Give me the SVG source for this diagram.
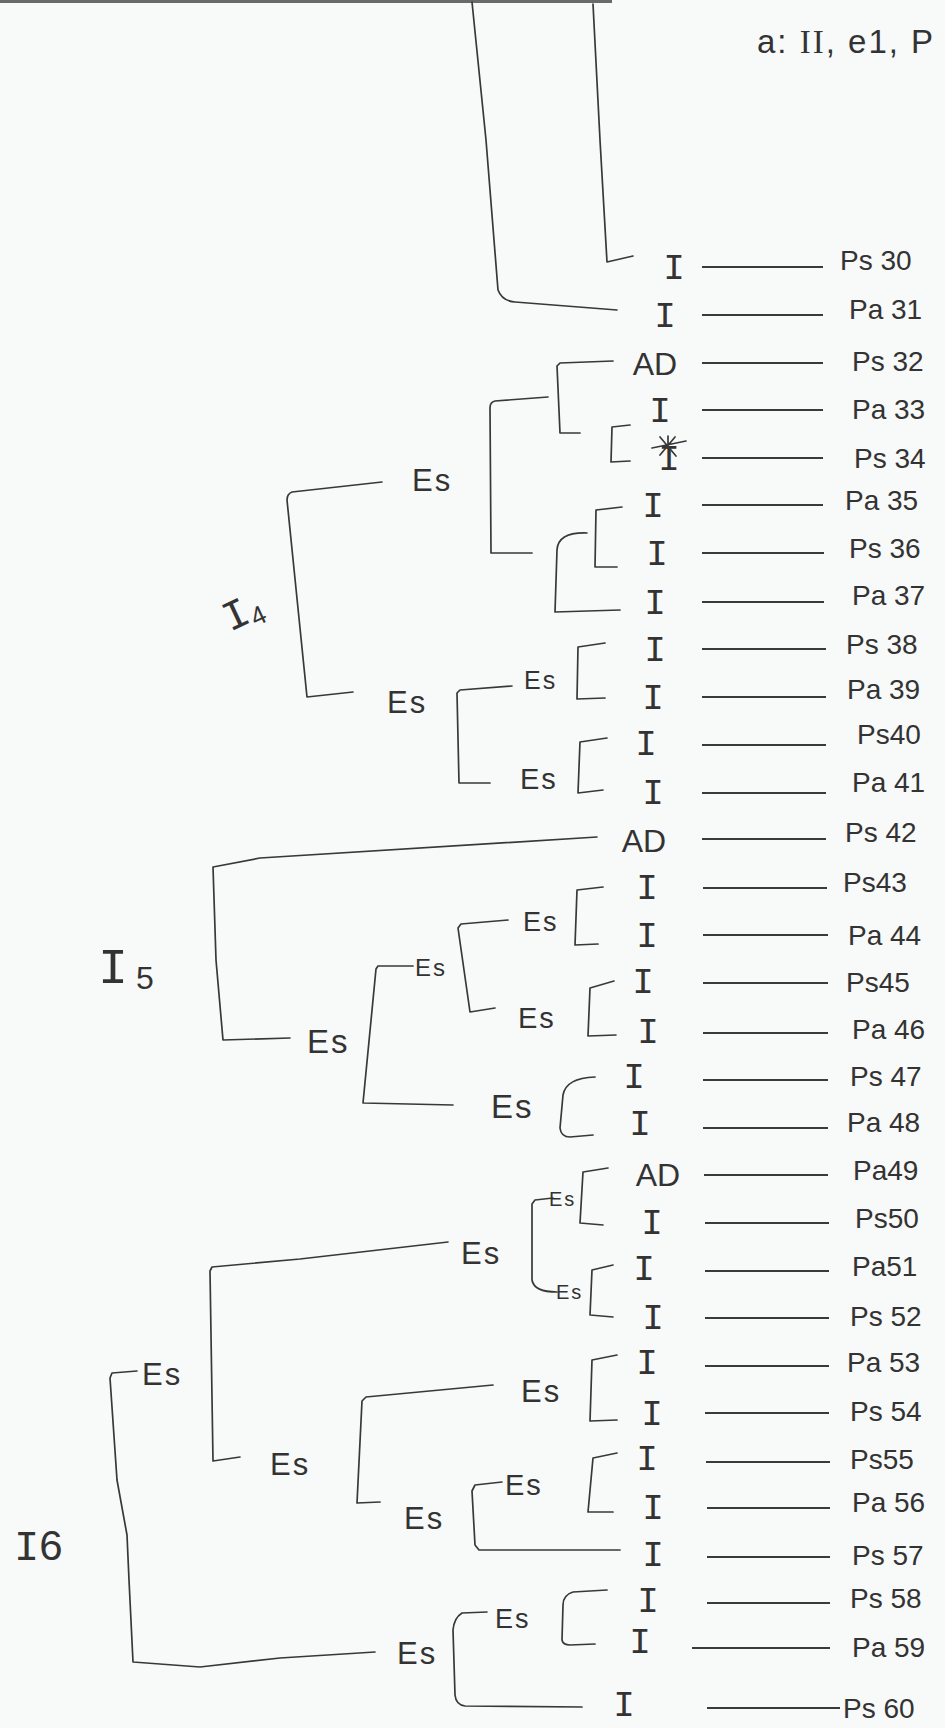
<svg xmlns="http://www.w3.org/2000/svg" width="945" height="1728" viewBox="0 0 945 1728">
<style>
.c{fill:none;stroke:#383838;stroke-width:1.7;stroke-linejoin:round;stroke-linecap:round}
.r{stroke:#3a3a3a;stroke-width:2}
.t{font-family:"Liberation Mono","DejaVu Sans Mono",monospace;font-size:36px;fill:#333;text-anchor:middle}
.ad{font-family:"Liberation Sans",Arial,sans-serif;font-size:32px;fill:#333;text-anchor:middle}
.p{font-family:"Liberation Sans",Arial,sans-serif;font-size:28px;fill:#333}
.e{font-family:"Liberation Sans",Arial,sans-serif;fill:#333;letter-spacing:2px}
.root{font-family:"Liberation Mono","DejaVu Sans Mono",monospace;fill:#333}
</style>
<rect x="0" y="0" width="945" height="1728" fill="#f8faf9"/>
<line x1="0" y1="1.5" x2="612" y2="1.5" stroke="#6a6a6a" stroke-width="3"/>

<g id="header"><text class="e" x="757" y="53" font-size="33" letter-spacing="1.5">a: <tspan font-family="Liberation Serif, serif">II</tspan>, e1, P</text></g>

<g id="connectors">
<path class="c" d="M472,2 L486,140 L498,290 Q502,301 515,302 L617,310"/>
<path class="c" d="M593,4 L600,140 L607,262 L633,256"/>
<path class="c" d="M382,482 L292,492 Q287,494 287,500 L307,697 L353,692"/>
<path class="c" d="M548,397 L495,401 Q490,402 490,408 L491,553 L532,553"/>
<path class="c" d="M613,361 L560,363 L557,366 L560,433 L580,433"/>
<path class="c" d="M630,425 L612,427 L611,462 L630,461"/>
<path class="c" d="M622,507 L596,510 L595,567 L617,567"/>
<path class="c" d="M587,533 Q558,532 557,550 L555,612 L620,610"/>
<path class="c" d="M512,686 L460,690 L457,693 L459,783 L490,783"/>
<path class="c" d="M605,643 L578,647 L577,699 L605,698"/>
<path class="c" d="M607,738 L580,742 L578,793 L603,790"/>
<path class="c" d="M597,837 L260,858 L213,867 L216,960 L223,1040 L290,1038"/>
<path class="c" d="M413,966 L378,966 L376,969 L363,1103 L453,1105"/>
<path class="c" d="M508,920 L461,924 L458,928 L470,1012 L495,1008"/>
<path class="c" d="M603,887 L577,890 L575,945 L598,944"/>
<path class="c" d="M614,981 L590,988 L588,1036 L616,1035"/>
<path class="c" d="M595,1077 Q566,1078 563,1095 L560,1128 Q561,1137 570,1137 L593,1135"/>
<path class="c" d="M137,1371 L112,1373 L110,1378 L117,1480 L127,1535 L129,1580 L133,1662 L200,1667 L280,1658 L375,1652"/>
<path class="c" d="M448,1242 L300,1259 L212,1267 L210,1271 L213,1461 L240,1457"/>
<path class="c" d="M493,1385 L366,1397 L362,1401 L357,1503 L380,1502"/>
<path class="c" d="M553,1198 L535,1200 L532,1204 L532,1280 Q534,1292 557,1292"/>
<path class="c" d="M608,1168 L583,1172 L580,1223 L603,1225"/>
<path class="c" d="M613,1265 L592,1270 L590,1315 L613,1317"/>
<path class="c" d="M617,1355 L592,1360 L590,1421 L617,1420"/>
<path class="c" d="M502,1482 L475,1485 L472,1491 L475,1545 L479,1550 L620,1550"/>
<path class="c" d="M617,1453 L593,1458 L588,1512 L613,1512"/>
<path class="c" d="M487,1612 L462,1613 Q454,1618 453,1630 L455,1695 Q456,1705 465,1706 L582,1707"/>
<path class="c" d="M607,1590 L573,1592 Q563,1595 563,1605 L562,1640 Q563,1645 570,1645 L595,1644"/>
</g>

<g id="I4"><text class="root" transform="translate(230,632) rotate(-25)" font-size="42">I<tspan font-size="26" font-family="Liberation Sans, sans-serif" dy="6">4</tspan></text></g>
<g id="I5"><text class="root" x="98" y="983" font-size="50">I<tspan font-size="32" font-family="Liberation Sans, sans-serif" dx="8" dy="6">5</tspan></text></g>
<g id="I6"><text class="root" x="14" y="1560" font-size="42">I<tspan font-family="Liberation Sans, sans-serif">6</tspan></text></g>

<g id="es-i4a"><text class="e" x="412" y="491" font-size="31">Es</text></g>
<g id="es-i4b"><text class="e" x="387" y="713" font-size="31">Es</text></g>
<g id="es-38"><text class="e" x="524" y="689" font-size="25">Es</text></g>
<g id="es-40"><text class="e" x="520" y="789" font-size="29">Es</text></g>
<g id="es-i5"><text class="e" x="307" y="1053" font-size="33">Es</text></g>
<g id="es-i5a"><text class="e" x="415" y="976" font-size="24">Es</text></g>
<g id="es-43"><text class="e" x="523" y="931" font-size="27">Es</text></g>
<g id="es-45"><text class="e" x="518" y="1028" font-size="29">Es</text></g>
<g id="es-47"><text class="e" x="491" y="1118" font-size="33">Es</text></g>
<g id="es-i6a"><text class="e" x="142" y="1385" font-size="31">Es</text></g>
<g id="es-i6b"><text class="e" x="397" y="1664" font-size="31">Es</text></g>
<g id="es-49"><text class="e" x="461" y="1264" font-size="31">Es</text></g>
<g id="es-49a"><text class="e" x="549" y="1206" font-size="20" letter-spacing="0">Es</text></g>
<g id="es-51"><text class="e" x="556" y="1299" font-size="20" letter-spacing="0">Es</text></g>
<g id="es-53b"><text class="e" x="270" y="1475" font-size="31">Es</text></g>
<g id="es-53"><text class="e" x="521" y="1402" font-size="31">Es</text></g>
<g id="es-55b"><text class="e" x="404" y="1529" font-size="31">Es</text></g>
<g id="es-55"><text class="e" x="505" y="1495" font-size="29">Es</text></g>
<g id="es-58"><text class="e" x="495" y="1628" font-size="27">Es</text></g>

<g id="r30"><text class="t" x="674" y="279">I</text><line class="r" x1="702" y1="267" x2="823" y2="267"/><text class="p" x="840" y="270">Ps 30</text></g>
<g id="r31"><text class="t" x="665" y="327">I</text><line class="r" x1="702" y1="315" x2="823" y2="315"/><text class="p" x="849" y="319">Pa 31</text></g>
<g id="r32"><text class="ad" x="655" y="375">AD</text><line class="r" x1="702" y1="363" x2="823" y2="363"/><text class="p" x="852" y="371">Ps 32</text></g>
<g id="r33"><text class="t" x="660" y="422">I</text><line class="r" x1="702" y1="410" x2="823" y2="410"/><text class="p" x="852" y="419">Pa 33</text></g>
<g id="r34"><text class="t" x="669" y="470">I</text><path class="c" d="M652,448 L686,441 M660,437 L676,456 M675,437 L660,455 M668,436 L668,447" stroke-width="2"/><line class="r" x1="702" y1="458" x2="823" y2="458"/><text class="p" x="854" y="468">Ps 34</text></g>
<g id="r35"><text class="t" x="653" y="517">I</text><line class="r" x1="702" y1="505" x2="823" y2="505"/><text class="p" x="845" y="510">Pa 35</text></g>
<g id="r36"><text class="t" x="657" y="565">I</text><line class="r" x1="702" y1="553" x2="824" y2="553"/><text class="p" x="849" y="558">Ps 36</text></g>
<g id="r37"><text class="t" x="655" y="614">I</text><line class="r" x1="702" y1="602" x2="824" y2="602"/><text class="p" x="852" y="605">Pa 37</text></g>
<g id="r38"><text class="t" x="655" y="661">I</text><line class="r" x1="702" y1="649" x2="826" y2="649"/><text class="p" x="846" y="654">Ps 38</text></g>
<g id="r39"><text class="t" x="653" y="709">I</text><line class="r" x1="702" y1="697" x2="826" y2="697"/><text class="p" x="847" y="699">Pa 39</text></g>
<g id="r40"><text class="t" x="646" y="755">I</text><line class="r" x1="702" y1="745" x2="826" y2="745"/><text class="p" x="857" y="744">Ps40</text></g>
<g id="r41"><text class="t" x="653" y="804">I</text><line class="r" x1="702" y1="793" x2="826" y2="793"/><text class="p" x="852" y="792">Pa 41</text></g>
<g id="r42"><text class="ad" x="644" y="852">AD</text><line class="r" x1="702" y1="839" x2="826" y2="839"/><text class="p" x="845" y="842">Ps 42</text></g>
<g id="r43"><text class="t" x="647" y="899">I</text><line class="r" x1="703" y1="888" x2="827" y2="888"/><text class="p" x="843" y="892">Ps43</text></g>
<g id="r44"><text class="t" x="647" y="947">I</text><line class="r" x1="703" y1="935" x2="828" y2="935"/><text class="p" x="848" y="945">Pa 44</text></g>
<g id="r45"><text class="t" x="643" y="993">I</text><line class="r" x1="703" y1="983" x2="828" y2="983"/><text class="p" x="846" y="992">Ps45</text></g>
<g id="r46"><text class="t" x="648" y="1043">I</text><line class="r" x1="703" y1="1033" x2="828" y2="1033"/><text class="p" x="852" y="1039">Pa 46</text></g>
<g id="r47"><text class="t" x="634" y="1088">I</text><line class="r" x1="703" y1="1080" x2="828" y2="1080"/><text class="p" x="850" y="1086">Ps 47</text></g>
<g id="r48"><text class="t" x="640" y="1135">I</text><line class="r" x1="703" y1="1128" x2="828" y2="1128"/><text class="p" x="847" y="1132">Pa 48</text></g>
<g id="r49"><text class="ad" x="658" y="1186">AD</text><line class="r" x1="704" y1="1175" x2="828" y2="1175"/><text class="p" x="853" y="1180">Pa49</text></g>
<g id="r50"><text class="t" x="652" y="1234">I</text><line class="r" x1="705" y1="1223" x2="829" y2="1223"/><text class="p" x="855" y="1228">Ps50</text></g>
<g id="r51"><text class="t" x="644" y="1280">I</text><line class="r" x1="705" y1="1271" x2="829" y2="1271"/><text class="p" x="852" y="1276">Pa51</text></g>
<g id="r52"><text class="t" x="653" y="1329">I</text><line class="r" x1="705" y1="1318" x2="829" y2="1318"/><text class="p" x="850" y="1326">Ps 52</text></g>
<g id="r53"><text class="t" x="647" y="1374">I</text><line class="r" x1="705" y1="1366" x2="829" y2="1366"/><text class="p" x="847" y="1372">Pa 53</text></g>
<g id="r54"><text class="t" x="652" y="1425">I</text><line class="r" x1="705" y1="1413" x2="829" y2="1413"/><text class="p" x="850" y="1421">Ps 54</text></g>
<g id="r55"><text class="t" x="647" y="1470">I</text><line class="r" x1="706" y1="1462" x2="830" y2="1462"/><text class="p" x="850" y="1469">Ps55</text></g>
<g id="r56"><text class="t" x="653" y="1519">I</text><line class="r" x1="707" y1="1508" x2="830" y2="1508"/><text class="p" x="852" y="1512">Pa 56</text></g>
<g id="r57"><text class="t" x="653" y="1566">I</text><line class="r" x1="707" y1="1557" x2="830" y2="1557"/><text class="p" x="852" y="1565">Ps 57</text></g>
<g id="r58"><text class="t" x="648" y="1612">I</text><line class="r" x1="707" y1="1603" x2="830" y2="1603"/><text class="p" x="850" y="1608">Ps 58</text></g>
<g id="r59"><text class="t" x="640" y="1653">I</text><line class="r" x1="692" y1="1648" x2="830" y2="1648"/><text class="p" x="852" y="1657">Pa 59</text></g>
<g id="r60"><text class="t" x="624" y="1716">I</text><line class="r" x1="707" y1="1708" x2="840" y2="1708"/><text class="p" x="843" y="1718">Ps 60</text></g>
</svg>
